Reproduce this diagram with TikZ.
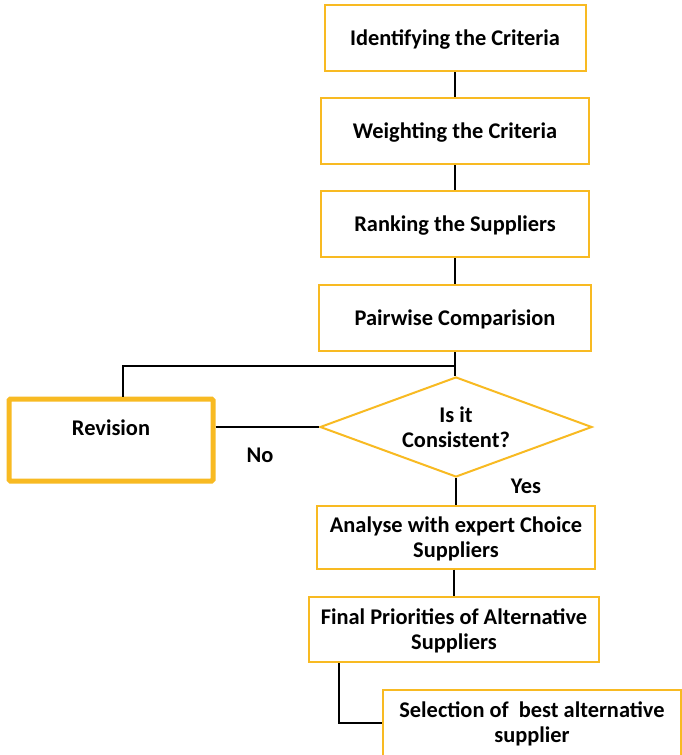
\documentclass[tikz,border=0pt]{standalone}
\usepackage{fontspec}
\setmainfont{Carlito}
\usetikzlibrary{shapes.geometric}
\definecolor{boxline}{HTML}{F8BA22}
\tikzset{
  txt/.style={font=\bfseries\fontsize{22.4}{25}\selectfont, align=center},
  stepbox/.style={txt, draw=boxline, line width=2pt, fill=white, inner sep=0pt,
    text depth=0pt},
  revbox/.style={draw=boxline, line width=5pt, fill=white, rounded corners=1.5pt},
  decision/.style={diamond, draw=boxline, line width=2pt, fill=white,
    aspect=2.72, inner sep=0pt},
  link/.style={draw=black, line width=2.6pt},
  thinlink/.style={draw=black, line width=1.8pt},
}
\begin{document}
\begin{tikzpicture}[x=1pt,y=-1pt]
  \useasboundingbox (0,0) rectangle (682,755);
  \fill[white] (0,0) rectangle (682,755);
  \begin{scope}
    \clip (0,0) rectangle (682,755);

    % process steps
    \node[stepbox, minimum width=261pt, minimum height=66pt] (ident) at (455,38) {Identifying the Criteria};
    \node[stepbox, minimum width=268pt, minimum height=66pt] (weight) at (455,131) {Weighting the Criteria};
    \node[stepbox, minimum width=268pt, minimum height=66pt] (rank) at (455,224) {Ranking the Suppliers};
    \node[stepbox, minimum width=272pt, minimum height=66pt] (pair) at (455,318) {Pairwise Comparision};

    \node[decision, minimum width=272pt, minimum height=100pt,
      label={[txt]center:Is it\\Consistent?}] (cons) at (456,427) {};

    \node[revbox, minimum width=204pt, minimum height=82pt,
      label={[txt, yshift=12pt]center:Revision}] (rev) at (111,440) {};

    \node[stepbox, minimum width=278pt, minimum height=63pt] (analyse) at (456,537) {Analyse with expert Choice\\Suppliers};
    \node[stepbox, minimum width=290pt, minimum height=65pt] (final) at (454,629.5) {Final Priorities of Alternative\\Suppliers};
    \node[stepbox, minimum width=298pt, minimum height=90pt, anchor=north west,
      label={[txt, anchor=north, yshift=-9pt]north:Selection of\ \ best alternative\\supplier}] (select) at (382,689) {};

    % junction points of the connectors
    \coordinate (split) at (455,366);
    \coordinate (bend) at (123,366);
    \coordinate (elbow) at (339,723);

    % links between steps
    \draw[link] (ident) -- (weight);
    \draw[link] (weight) -- (rank);
    \draw[link] (rank) -- (pair);
    \draw[link] (pair.south) -- (split) -- (split |- cons.north);
    \draw[thinlink] (split) -- (bend) -- (bend |- rev.north);
    \draw[link] (rev.east |- cons.west) -- (cons.west);
    \draw[link] (cons.south) -- (cons.south |- analyse.north);
    \draw[link] (analyse.south -| final.north) -- (final.north);
    \draw[link] (final.south -| elbow) -- (elbow) -- (elbow -| select.west);

    \node[txt] (no) at (260,455) {No};
    \node[txt] (yes) at (526,486) {Yes};
  \end{scope}
\end{tikzpicture}
\end{document}
